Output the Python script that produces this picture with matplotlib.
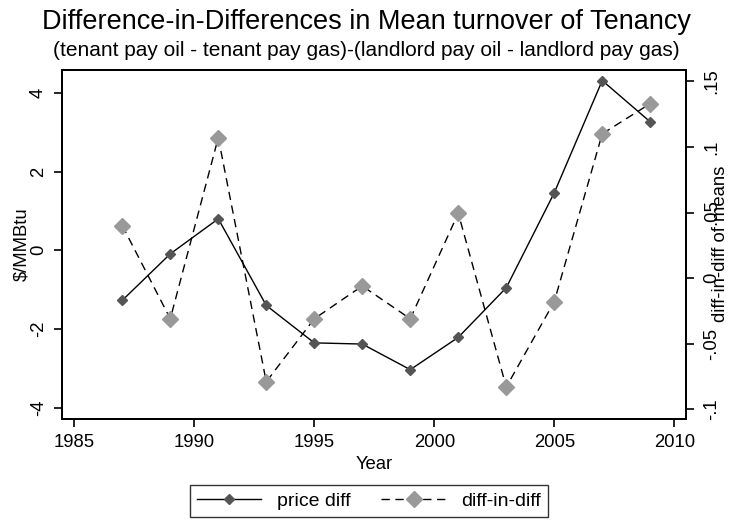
import matplotlib
matplotlib.use("Agg")
import matplotlib.pyplot as plt
from matplotlib.lines import Line2D

plt.rcParams['font.family'] = ['Liberation Sans', 'DejaVu Sans']

years = [1987, 1989, 1991, 1993, 1995, 1997, 1999, 2001, 2003, 2005, 2007, 2009]
price_diff = [-1.27, -0.09, 0.80, -1.40, -2.35, -2.38, -3.03, -2.21, -0.95, 1.46, 4.31, 3.26]
diff_in_diff = [0.040, -0.031, 0.107, -0.079, -0.031, -0.006, -0.031, 0.0495, -0.083, -0.018, 0.110, 0.133]

left_ticks = [-4, -2, 0, 2, 4]
right_ticks = [-0.1, -0.05, 0, 0.05, 0.1, 0.15]
right_labels = ['-.1', '-.05', '0', '.05', '.1', '.15']
x_ticks = [1985, 1990, 1995, 2000, 2005, 2010]

fig = plt.figure(figsize=(7.33, 5.2), dpi=100)
ax = fig.add_axes([61.7 / 733, 1 - 418.5 / 520, (686 - 61.7) / 733, (418.5 - 69.5) / 520])
ax2 = ax.twinx()

ax.plot(years, price_diff, color='black', lw=1.0, marker='D', ms=5,
        mfc='#555555', mec='#555555', zorder=3)
ax2.plot(years, diff_in_diff, color='black', lw=1.0, ls=(0, (6, 4)), marker='D', ms=8,
         mfc='#999999', mec='#999999', zorder=3)

ax.set_xlim(1984.475, 2010.49)
ax.set_ylim(-4.27, 4.59)
ax2.set_ylim(-0.107, 0.159)

ax.set_xticks(x_ticks)
ax.set_yticks(left_ticks)
ax.set_yticklabels([str(t) for t in left_ticks], rotation=90, va='center')
ax2.set_yticks(right_ticks)
ax2.set_yticklabels(right_labels, rotation=90, va='center')

for a in (ax, ax2):
    a.tick_params(direction='out', length=5.5, width=1.2, labelsize=13.3, colors='black')
    for s in a.spines.values():
        s.set_linewidth(1.4)
ax.tick_params(axis='x', pad=6)
ax.tick_params(axis='y', pad=5)
ax2.tick_params(axis='y', pad=7)

ax.set_xlabel('Year', fontsize=13.3, labelpad=3)
ax.set_ylabel('\\$/MMBtu', fontsize=13.3)
ax.yaxis.label.set_va('center')
ax.yaxis.set_label_coords(-0.0636, 0.5)
ax2.set_ylabel('diff-in-diff of means', fontsize=13.3, rotation=90)
ax2.yaxis.label.set_va('center')
ax2.yaxis.set_label_coords(1.0545, 0.5)

fig.text(0.5, 1 - 22 / 520, 'Difference-in-Differences in Mean turnover of Tenancy',
         ha='center', va='center', fontsize=19.5)
fig.text(0.5, 1 - 50 / 520, '(tenant pay oil - tenant pay gas)-(landlord pay oil - landlord pay gas)',
         ha='center', va='center', fontsize=15)

handles = [
    Line2D([], [], color='black', lw=1.0, marker='D', ms=5, mfc='#555555', mec='#555555'),
    Line2D([], [], color='black', lw=1.0, ls=(0, (6, 4)), marker='D', ms=8, mfc='#999999', mec='#999999'),
]
leg = fig.legend(handles, ['price diff', 'diff-in-diff'], loc='center',
                 bbox_to_anchor=(369 / 733, 1 - 501 / 520), ncol=2, fontsize=14, frameon=True,
                 fancybox=False, edgecolor='black', handlelength=3.3, columnspacing=1.6,
                 handletextpad=0.8, borderpad=0.35)
leg.get_frame().set_linewidth(1.0)

fig.savefig('out.png', dpi=100, facecolor='white')
